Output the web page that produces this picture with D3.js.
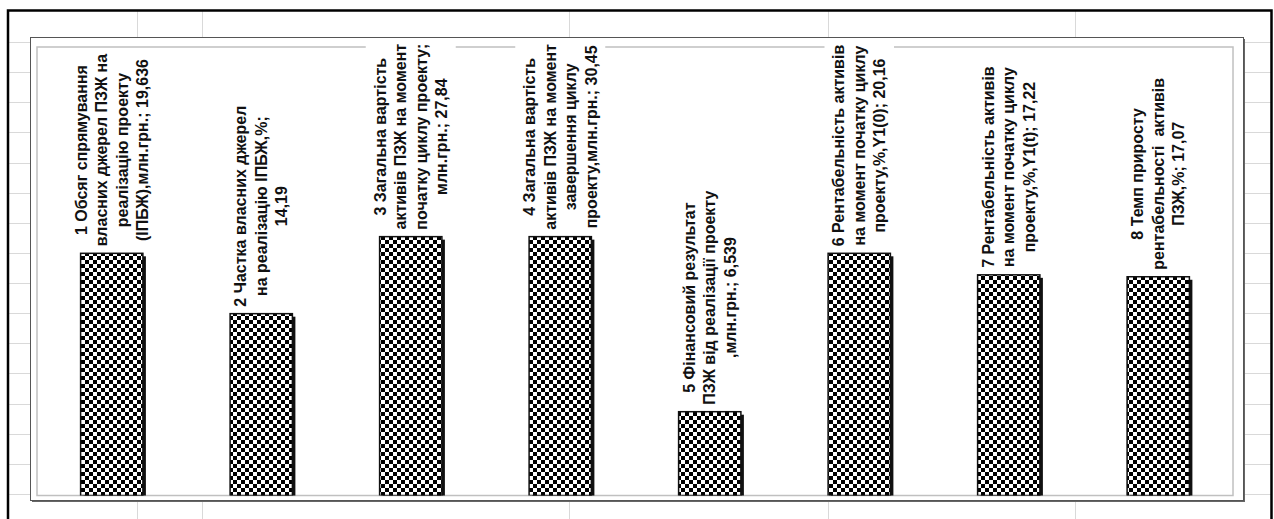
<!DOCTYPE html>
<html><head><meta charset="utf-8">
<script src="https://cdn.jsdelivr.net/npm/d3@7"></script>
<style>html,body{margin:0;padding:0;background:#fff;overflow:hidden;} svg{display:block;}</style>
</head><body>
<svg id="c" width="1274" height="519"></svg>
<script>
// ---- data ----
const categories = ["1", "2", "3", "4", "5", "6", "7", "8"];
const labelLines = [
  ["1 Обсяг спрямування", "власних джерел ПЗЖ на", "реалізацію проекту", "(ІПБЖ),млн.грн.; 19,636"],
  ["2 Частка власних джерел", "на реалізацію ІПБЖ,%;", "14,19"],
  ["3 Загальна вартість", "активів ПЗЖ на момент", "початку циклу проекту;", "млн.грн.; 27,84"],
  ["4 Загальна вартість", "активів ПЗЖ на момент", "завершення циклу", "проекту,млн.грн.; 30,45"],
  ["5 Фінансовий результат", "ПЗЖ від реалізації проекту", ",млн.грн.; 6,539"],
  ["6 Рентабельність активів", "на момент початку циклу", "проекту,%,Y1(0); 20,16"],
  ["7 Рентабельність активів", "на момент початку циклу", "проекту,%,Y1(t); 17,22"],
  ["8 Темп приросту", "рентабельності  активів", "ПЗЖ,%; 17,07"]
];
// bar heights as they appear in the picture (axis 0..35)
const barValues = [18.9, 14.19, 20.2, 20.2, 6.539, 18.9, 17.22, 17.07];
const yDomain = [0, 35];

// ---- layout ----
const W = 1274, H = 519;
const plot = {left: 37, right: 1233, top: 47, bottom: 495.5};
const chartBox = {left: 30, right: 1243, top: 37, bottom: 500};
const svg = d3.select("#c");

// spreadsheet grid
const grid = svg.append("g").attr("stroke", "#d9d9d9").attr("stroke-width", 1);
const rowH = 30.13;
d3.range(0, 17).forEach(i => {
  const yy = Math.round(42 + i * rowH) + 0.5;
  grid.append("line").attr("x1", 8).attr("x2", 1272).attr("y1", yy).attr("y2", yy);
});
[137, 202, 569, 828, 1075].forEach(xx => {
  grid.append("line").attr("x1", xx + 0.5).attr("x2", xx + 0.5).attr("y1", 10).attr("y2", H);
});
// page border
svg.append("path").attr("d", `M8,${H} L8,10.5 L1271.5,10.5 L1271.5,${H}`)
  .attr("stroke", "#000").attr("stroke-width", 2.5).attr("fill", "none");

// chart area
svg.append("rect").attr("x", chartBox.left + 2).attr("y", chartBox.top + 2)
  .attr("width", chartBox.right - chartBox.left).attr("height", chartBox.bottom - chartBox.top)
  .attr("fill", "#666");
svg.append("rect").attr("x", chartBox.left + 0.5).attr("y", chartBox.top + 0.5)
  .attr("width", chartBox.right - chartBox.left).attr("height", chartBox.bottom - chartBox.top)
  .attr("fill", "#fff").attr("stroke", "#555").attr("stroke-width", 1);

// plot area border
svg.append("rect").attr("x", plot.left).attr("y", plot.top)
  .attr("width", plot.right - plot.left).attr("height", plot.bottom - plot.top)
  .attr("fill", "none").attr("stroke", "#c0c0c0").attr("stroke-width", 1.5);

// scales
const x = d3.scaleBand().domain(categories).range([plot.left, plot.right])
  .paddingInner(1.4 / 2.4).paddingOuter(0.7 / 2.4);
const y = d3.scaleLinear().domain(yDomain).range([plot.bottom, plot.top]);

// pattern
const defs = svg.append("defs");
const cs = 4;
const pat = defs.append("pattern").attr("id", "chk").attr("patternUnits", "userSpaceOnUse")
  .attr("width", 2 * cs).attr("height", 2 * cs).attr("x", 1).attr("y", 0);
pat.append("rect").attr("width", 2 * cs).attr("height", 2 * cs).attr("fill", "#fff");
pat.append("rect").attr("x", 0).attr("y", 0).attr("width", cs).attr("height", cs).attr("fill", "#000");
pat.append("rect").attr("x", cs).attr("y", cs).attr("width", cs).attr("height", cs).attr("fill", "#000");
defs.append("clipPath").attr("id", "pc").append("rect")
  .attr("x", plot.left).attr("y", plot.top - 20).attr("width", plot.right - plot.left)
  .attr("height", plot.bottom - plot.top + 20);

const bars = svg.append("g").attr("clip-path", "url(#pc)");
bars.selectAll("rect.sh").data(barValues).join("rect").attr("class", "sh")
  .attr("x", (d, i) => x(categories[i]) + 3).attr("y", d => y(d) + 3)
  .attr("width", x.bandwidth()).attr("height", d => y(0) - y(d))
  .attr("fill", "#111");
bars.selectAll("rect.bar").data(barValues).join("rect").attr("class", "bar")
  .attr("x", (d, i) => x(categories[i])).attr("y", d => y(d))
  .attr("width", x.bandwidth()).attr("height", d => y(0) - y(d))
  .attr("fill", "url(#chk)").attr("stroke", "#111").attr("stroke-width", 1.5);

// labels
const pitch = 20.5, gap = 7, fs = 16;
const lab = svg.append("g");
labelLines.forEach((lines, i) => {
  const cx = x(categories[i]) + x.bandwidth() / 2;
  const g = lab.append("g");
  const box = g.append("rect").attr("fill", "#fff");
  const tg = g.append("g");
  const n = lines.length;
  const texts = lines.map((t, j) => tg.append("text")
    .attr("x", 0).attr("y", (j - (n - 1) / 2) * pitch).attr("dy", "0.35em")
    .attr("text-anchor", "middle")
    .attr("font-family", "'Liberation Sans', Arial, sans-serif")
    .attr("font-weight", "bold").attr("font-size", fs).attr("fill", "#111")
    .style("white-space", "pre")
    .text(t));
  const maxLen = d3.max(texts, t => t.node().getComputedTextLength());
  const cy = y(barValues[i]) - gap - maxLen / 2;
  tg.attr("transform", `translate(${cx},${cy}) rotate(-90)`);
  const half = n * pitch / 2 + 4;
  box.attr("x", cx - half).attr("y", cy - maxLen / 2 - 3)
    .attr("width", 2 * half).attr("height", maxLen + 6);
});
</script>
</body></html>
